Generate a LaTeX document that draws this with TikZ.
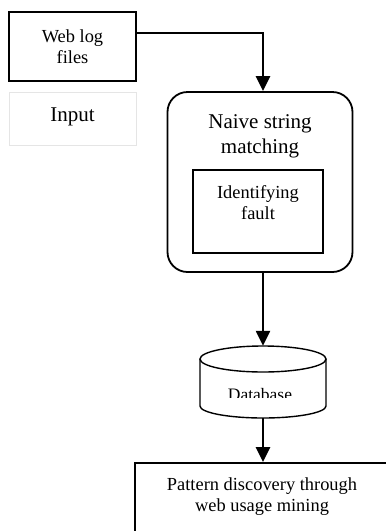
\documentclass[tikz,border=0pt]{standalone}
\usepackage{fontspec}
\setmainfont{Liberation Serif}
\usetikzlibrary{arrows.meta}
\begin{document}
\begin{tikzpicture}[x=1pt,y=-1pt,
  box/.style={draw, line width=1.8pt, inner sep=0pt},
  conn/.style={line width=2.4pt, -{Triangle[length=15pt,width=14pt]}},
  big/.style={font=\fontsize{21}{25}\selectfont, align=center, inner sep=0pt},
  small/.style={font=\fontsize{18.4}{21}\selectfont, align=center, inner sep=0pt}]
\useasboundingbox (0,0) rectangle (386,531);
\clip (0,0) rectangle (386,531);
% boxes
\node[box, minimum width=127pt, minimum height=69pt] (web) at (72.5,46.5) {};
\node[small] (webtxt) at (72.5,47) {Web log\\files};
\node[draw=black!10, line width=0.8pt, minimum width=127pt, minimum height=53pt, inner sep=0pt] (input) at (72.5,118.5) {};
\node[big] (inputtxt) at (72.5,117) {Input};
\node[box, rounded corners=20pt, minimum width=185pt, minimum height=180pt] (naive) at (260,182) {};
\node[big] (naivetxt) at (260,136) {Naive string\\matching};
\node[draw, line width=1.3pt, minimum width=130pt, minimum height=83pt, inner sep=0pt] (inner) at (258,211.5) {};
\node[small] (innertxt) at (258,203) {Identifying\\fault};
% database cylinder
\node[minimum width=126pt, minimum height=72pt, inner sep=0pt] (db) at (263,382) {};
\draw[line width=1.4pt] (263,359) ellipse [x radius=63, y radius=13];
\draw[line width=1.4pt] (200,359) -- (200,406) arc[start angle=180, end angle=0, x radius=63, y radius=12] -- (326,359);
\begin{scope}
  \clip (200,372) rectangle (326,397);
  \node[font=\fontsize{17.5}{20}\selectfont, inner sep=0pt] (dbtxt) at (260,394.5) {Database};
\end{scope}
\node[box, minimum width=300pt, minimum height=120pt] (pattern) at (285,523) {};
\node[small] (patterntxt) at (262,497) {Pattern discovery through\\web usage mining};
% connectors
\draw[conn] ([yshift=13.5pt]web.east) -| (db.north |- naive.north);
\draw[conn] (db.north |- naive.south) -- (db.north);
\draw[conn] (db.south) -- (db.south |- pattern.north);
\end{tikzpicture}
\end{document}
